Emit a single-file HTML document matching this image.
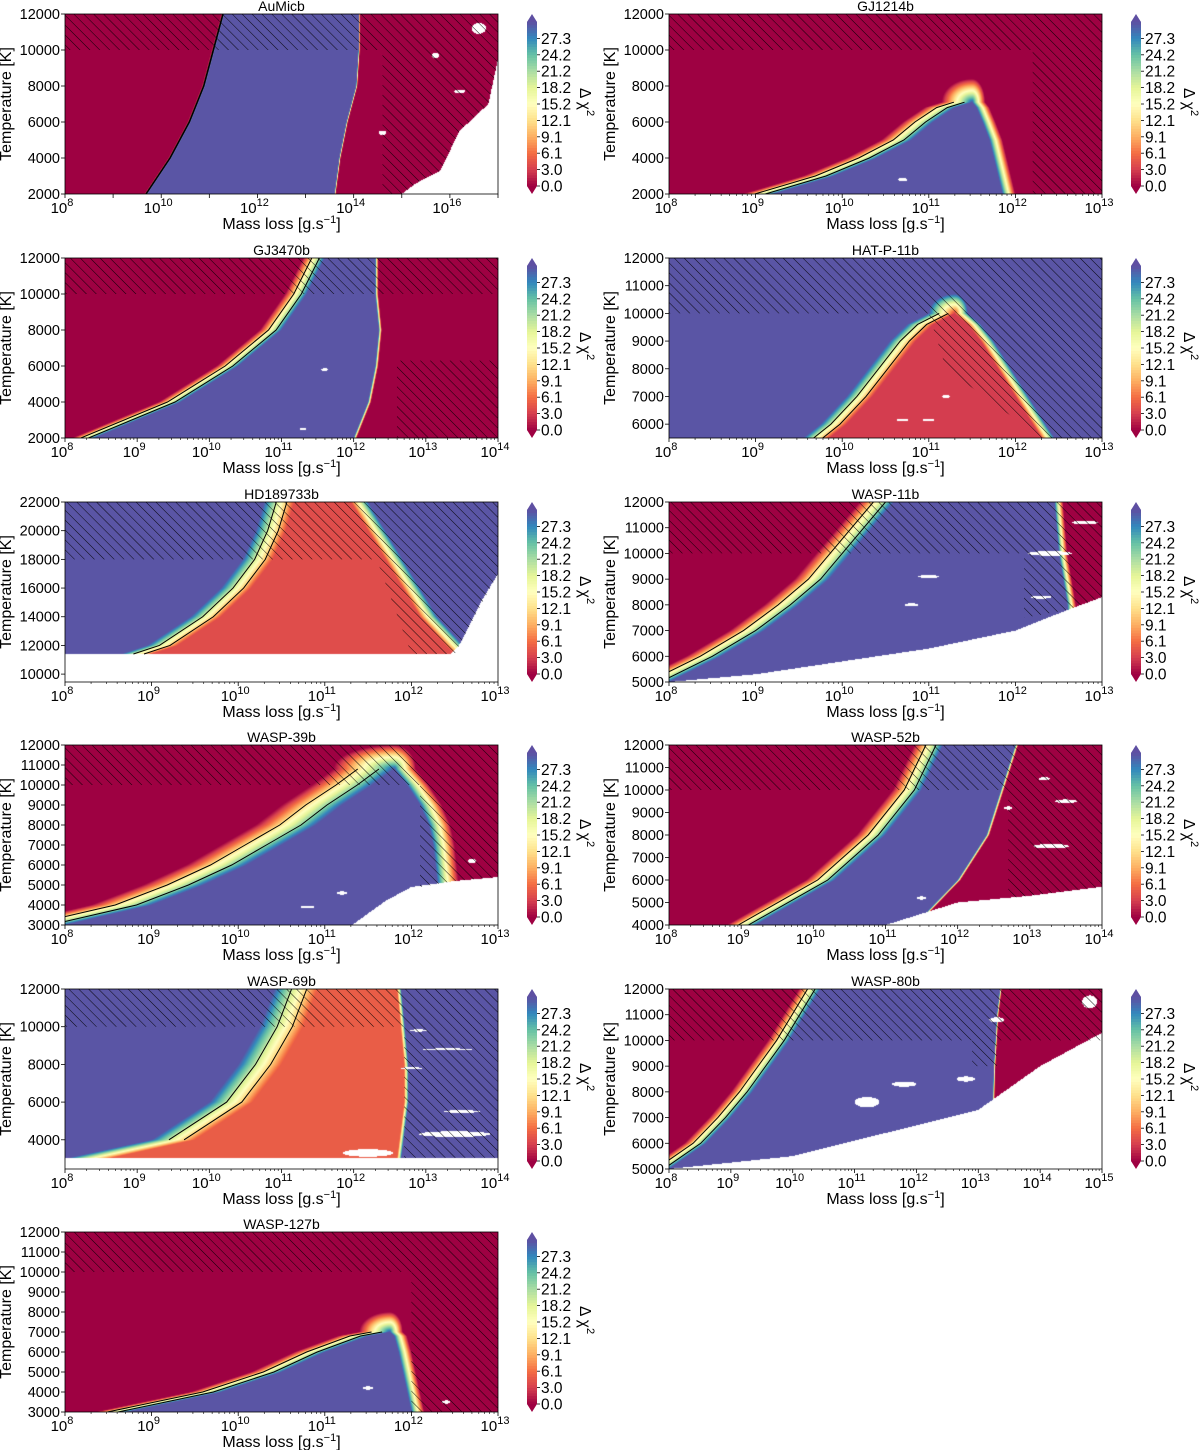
<!DOCTYPE html>
<html><head><meta charset="utf-8">
<style>
html,body{margin:0;padding:0;background:#fff;}
#wrap{position:relative;width:1200px;height:1450px;overflow:hidden;}
canvas{position:absolute;}
svg{position:absolute;left:0;top:0;}
text{font-family:"Liberation Sans",sans-serif;fill:#000;}
</style></head>
<body>
<div id="wrap">
<svg id="svg" width="1200" height="1450">
<defs>
<pattern id="hatch" patternUnits="userSpaceOnUse" width="7" height="7" patternTransform="rotate(-45)">
<line x1="0" y1="0" x2="0" y2="7" stroke="#000" stroke-width="0.9"/>
</pattern>
</defs>
</svg>
</div>
<script>
// ---------- data ----------
const panelNames=["AuMicb","GJ1214b","GJ3470b","HAT-P-11b","HD189733b","WASP-11b","WASP-39b","WASP-52b","WASP-69b","WASP-80b","WASP-127b"];
const xMin=[8,8,8,8,8,8,8,8,8,8,8];
const xMax=[17,13,14,13,13,13,13,14,14,15,13];
const xLabelStep=[2,1,1,1,1,1,1,1,1,1,1];
const yMin=[2000,2000,2000,5500,9450,5000,3000,4000,2450,5000,3000];
const yMax=[12000,12000,12000,12000,22000,12000,12000,12000,12000,12000,12000];
const yTicks=[
[2000,4000,6000,8000,10000,12000],
[2000,4000,6000,8000,10000,12000],
[2000,4000,6000,8000,10000,12000],
[6000,7000,8000,9000,10000,11000,12000],
[10000,12000,14000,16000,18000,20000,22000],
[5000,6000,7000,8000,9000,10000,11000,12000],
[3000,4000,5000,6000,7000,8000,9000,10000,11000,12000],
[4000,5000,6000,7000,8000,9000,10000,11000,12000],
[4000,6000,8000,10000,12000],
[5000,6000,7000,8000,9000,10000,11000,12000],
[3000,4000,5000,6000,7000,8000,9000,10000,11000,12000]];
const cbTickLabels=["0.0","3.0","6.1","9.1","12.1","15.2","18.2","21.2","24.2","27.3"];
const cbTickValues=[0,3.03,6.06,9.09,12.12,15.15,18.18,21.21,24.24,27.27];
const insideVal=[30,30,30,3,4,30,30,30,5,30,30];
const outsideVal=[0,0,0,30,30,0,0,0,30,0,0];
const bandW=[0.04,0.35,0.3,0.3,0.35,0.4,0.7,0.4,0.6,0.35,0.35];
const bandWR=[0.03,0.15,0.04,0.15,0.2,0.1,0.25,0.04,0.06,0.03,0.15];
const tempW=[1000,1300,1000,700,1000,1000,1200,1000,1000,1000,1000];
// boundaries: [T, log10 mass loss]
const leftBoundary=[
[[2000,9.7],[4000,10.2],[6000,10.6],[8000,10.9],[10000,11.1],[12000,11.3]],
[[2000,9.2],[3000,9.9],[4000,10.4],[5000,10.8],[6000,11.05],[6800,11.3],[7100,11.5]],
[[2000,8.4],[4000,9.6],[6000,10.4],[8000,11.0],[10000,11.35],[12000,11.6]],
[[5500,9.85],[6000,10.05],[7000,10.35],[8000,10.6],[9000,10.85],[9600,11.05],[10000,11.3]],
[[11400,9.0],[12000,9.3],[14000,9.8],[16000,10.15],[18000,10.4],[20000,10.55],[22000,10.65]],
[[5000,8.0],[6000,8.6],[7000,9.1],[8000,9.5],[9000,9.85],[10000,10.1],[11000,10.35],[12000,10.6]],
[[3000,8.0],[4000,9.0],[5000,9.6],[6000,10.1],[7000,10.5],[8000,10.9],[9000,11.2],[10000,11.55],[10800,11.8]],
[[4000,9.2],[6000,10.3],[8000,11.0],[10000,11.5],[12000,11.8]],
[[3000,8.6],[4000,9.8],[6000,10.6],[8000,11.0],[10000,11.3],[12000,11.5]],
[[5000,8.0],[6000,8.6],[7000,9.0],[8000,9.35],[9000,9.65],[10000,9.95],[11000,10.2],[12000,10.45]],
[[3000,8.7],[4000,9.8],[5000,10.5],[6000,11.0],[6800,11.5],[7000,11.75]]];
const rightBoundary=[
[[2000,13.6],[4000,13.7],[6000,13.85],[8000,14.05],[10000,14.1],[12000,14.1]],
[[2000,11.85],[3000,11.8],[4000,11.75],[5000,11.7],[6000,11.62],[6800,11.55],[7100,11.5]],
[[2000,12.0],[4000,12.2],[6000,12.3],[8000,12.35],[10000,12.3],[12000,12.3]],
[[5500,12.3],[6000,12.2],[7000,12.0],[8000,11.8],[9000,11.6],[9600,11.45],[10000,11.3]],
[[11400,12.5],[12000,12.4],[14000,12.1],[16000,11.9],[18000,11.7],[20000,11.5],[22000,11.3]],
[[5000,12.6],[8000,12.6],[10000,12.5],[12000,12.45]],
[[3000,12.3],[5000,12.3],[7000,12.25],[8000,12.2],[9000,12.1],[10000,11.95],[10800,11.8]],
[[4000,11.4],[6000,12.0],[8000,12.4],[10000,12.6],[12000,12.8]],
[[3000,12.6],[6000,12.7],[8000,12.7],[10000,12.65],[12000,12.6]],
[[5000,13.2],[9000,13.25],[11000,13.3],[12000,13.35]],
[[3000,12.0],[4000,11.95],[5000,11.9],[6000,11.85],[6800,11.8],[7000,11.75]]];
// white (no data) floor: [logM, T]; white below
const whiteFloor=[
[[8,0],[14.9,0],[15.0,2000],[15.3,2600],[15.8,3300],[16.2,5500],[16.8,7000],[17,9500]],
[[8,0],[13,0]],
[[8,0],[14,0]],
[[8,0],[13,0]],
[[8,11400],[12.45,11400],[12.55,12000],[12.8,15000],[13,17000]],
[[8,5000],[9,5300],[10,5800],[11,6300],[12,7000],[12.6,7800],[13,8300]],
[[8,2900],[11.3,2950],[11.7,4200],[12.0,4900],[12.5,5200],[13,5400]],
[[8,4000],[11,4000],[11.5,4500],[12,5000],[13,5300],[14,5700]],
[[8,3050],[14,3050]],
[[8,5000],[10,5500],[11,6100],[12,6700],[13,7300],[14,9000],[15,10300]],
[[8,0],[13,0]]];
// blobs: [logM, T, rx(dex), ry(K)]
const blobs=[
[[15.7,9700,0.08,150],[16.2,7700,0.12,100],[14.6,5400,0.08,120],[16.6,11200,0.15,300]],
[[10.7,2800,0.05,100]],
[[11.6,5800,0.05,70],[11.3,2500,0.05,70]],
[[11.0,6150,0.07,50],[10.7,6150,0.07,50],[11.2,7000,0.05,50]],
[],
[[12.4,10000,0.25,90],[11.0,9100,0.12,60],[12.3,8300,0.12,60],[10.8,8000,0.08,60],[12.8,11200,0.15,70]],
[[11.2,4600,0.06,80],[12.7,6200,0.05,100],[10.8,3900,0.08,70]],
[[13.3,7500,0.25,100],[13.5,9500,0.15,80],[12.7,9200,0.06,70],[11.5,5200,0.06,70],[13.2,10500,0.08,70]],
[[12.2,3300,0.35,200],[12.9,9800,0.12,60],[12.8,7800,0.15,50],[13.5,5500,0.25,70],[13.4,4300,0.5,150],[13.3,8800,0.35,50]],
[[11.2,7600,0.2,200],[11.8,8300,0.2,100],[12.8,8500,0.15,100],[14.8,11500,0.12,250],[13.3,10800,0.12,100]],
[[11.5,4200,0.06,80],[12.4,3500,0.05,80],[13.6,6600,0.05,70]]];
// hatched regions: polygons [logM, T]
const hatchRegions=[
[[[8,10000],[17,10000],[17,12000],[8,12000]],[[14.6,2000],[15.0,2000],[15.3,2600],[15.8,3300],[16.2,5500],[16.8,7000],[17,9500],[17,10000],[14.6,10000]]],
[[[8,10000],[13,10000],[13,12000],[8,12000]],[[12.2,2000],[13,2000],[13,10000],[12.2,10000]]],
[[[8,10000],[14,10000],[14,12000],[8,12000]],[[12.6,2000],[14,2000],[14,6300],[12.6,6300]]],
[[[8,10000],[13,10000],[13,12000],[8,12000]],[[11.0,10000],[13,10000],[13,5500],[12.3,5500],[11.2,8000]]],
[[[8,18000],[13,18000],[13,22000],[8,22000]],[[11.6,18000],[13,18000],[13,17000],[12.5,11400],[12.0,11400]]],
[[[8,10000],[13,10000],[13,12000],[8,12000]],[[12.1,7500],[12.6,7800],[13,8300],[13,10000],[12.1,10000]]],
[[[8,10000],[13,10000],[13,12000],[8,12000]],[[12.1,4900],[12.5,5200],[13,5400],[13,10000],[12.1,10000]]],
[[[8,10000],[14,10000],[14,12000],[8,12000]],[[12.7,5200],[13,5300],[14,5700],[14,10000],[12.7,10000]]],
[[[8,10000],[14,10000],[14,12000],[8,12000]],[[12.7,3050],[14,3050],[14,10000],[12.7,10000]]],
[[[8,10000],[15,10000],[15,12000],[8,12000]],[[12.9,9000],[13.3,9000],[13.3,10000],[12.9,10000]]],
[[[8,10000],[13,10000],[13,12000],[8,12000]],[[12.0,3000],[13,3000],[13,10000],[12.0,10000]]]];
const contourFractions=[0.25,0.6];
const cmapStops=['#9e0142','#d53e4f','#f46d43','#fdae61','#fee08b','#ffffbf','#e6f598','#abdda4','#66c2a5','#3288bd','#5e4fa2'];

// ---------- layout ----------
const rowTop=[14,258,502,745,989,1232];
const PW=433, PH=180;
const NS='http://www.w3.org/2000/svg';
const svg=document.getElementById('svg');
const wrap=document.getElementById('wrap');

function hex(c){return [parseInt(c.substr(1,2),16),parseInt(c.substr(3,2),16),parseInt(c.substr(5,2),16)];}
const stopsRGB=cmapStops.map(hex);
function cmap(v){
  let f=Math.max(0,Math.min(1,v/30.3))*(stopsRGB.length-1);
  let i=Math.min(stopsRGB.length-2,Math.floor(f)),t=f-i;
  const a=stopsRGB[i],b=stopsRGB[i+1];
  return [0,1,2].map(k=>Math.round(a[k]+(b[k]-a[k])*t));
}
function interpT(pts,T){
  if(T<=pts[0][0])return pts[0][1];
  for(let k=1;k<pts.length;k++){if(T<=pts[k][0]){const a=pts[k-1],b=pts[k];return a[1]+(b[1]-a[1])*(T-a[0])/(b[0]-a[0]);}}
  return pts[pts.length-1][1];
}
function interpX(pts,x){
  if(x<=pts[0][0])return pts[0][1];
  for(let k=1;k<pts.length;k++){if(x<=pts[k][0]){const a=pts[k-1],b=pts[k];return a[1]+(b[1]-a[1])*(x-a[0])/(b[0]-a[0]);}}
  return pts[pts.length-1][1];
}
function el(tag,attrs,parent){const e=document.createElementNS(NS,tag);for(const k in attrs)e.setAttribute(k,attrs[k]);(parent||svg).appendChild(e);return e;}

function valueAt(i,x,T){
  const L=leftBoundary[i],R=rightBoundary[i];
  const Tmax=Math.min(L[L.length-1][0],R[R.length-1][0]);
  let s;
  if(T>Tmax&&Tmax<yMax[i]){
    const xt=L[L.length-1][1];
    let dx=0;
    if(x<xt)dx=(xt-x)/bandW[i];else dx=(x-xt)/bandWR[i];
    const dy=(T-Tmax)/tempW[i];
    s=-Math.sqrt(dx*dx+dy*dy);
  } else {
    const Lx=interpT(L,T),Rx=interpT(R,T);
    s=Math.min((x-Lx)/bandW[i],(Rx-x)/bandWR[i]);
  }
  const t=Math.max(0,Math.min(1,s+1));
  return outsideVal[i]+(insideVal[i]-outsideVal[i])*t;
}

panelNames.forEach((name,i)=>{
  const col=i%2,row=Math.floor(i/2);
  const X0=col?669:65, Y0=rowTop[row];
  const sx=x=>X0+(x-xMin[i])/(xMax[i]-xMin[i])*PW;
  const sy=T=>Y0+PH-(T-yMin[i])/(yMax[i]-yMin[i])*PH;
  const g=el('g',{});
  
  
  const cv=document.createElement('canvas');
  cv.width=PW;cv.height=PH;cv.style.left=X0+'px';cv.style.top=Y0+'px';
  
  
  wrap.insertBefore(cv,svg);
  const ctx=cv.getContext('2d');
  const img=ctx.createImageData(PW,PH);
  for(let py=0;py<PH;py++){
    const T=yMin[i]+(PH-py-0.5)/PH*(yMax[i]-yMin[i]);
    for(let px=0;px<PW;px++){
      const x=xMin[i]+(px+0.5)/PW*(xMax[i]-xMin[i]);
      let c;
      let white=T<interpX(whiteFloor[i],x);
      for(const b of blobs[i]){const dx=(x-b[0])/b[2],dy=(T-b[1])/b[3];if(dx*dx+dy*dy<1){white=true;break;}}
      if(white)c=[255,255,255];else c=cmap(valueAt(i,x,T));
      const o=(py*PW+px)*4;img.data[o]=c[0];img.data[o+1]=c[1];img.data[o+2]=c[2];img.data[o+3]=255;
    }
  }
  ctx.putImageData(img,0,0);
  const cid='clip'+i;
  const cp=el('clipPath',{id:cid},svg.querySelector('defs'));
  el('rect',{x:X0,y:Y0,width:PW,height:PH},cp);
  hatchRegions[i].forEach(poly=>{
    const p=el('polygon',{points:poly.map(q=>sx(q[0])+','+sy(q[1])).join(' '),fill:'url(#hatch)','clip-path':'url(#'+cid+')'},g);
    
    
  });
  contourFractions.forEach(f=>{
    const pts=leftBoundary[i].filter(q=>q[0]>=interpX(whiteFloor[i],q[1]-f*bandW[i]));
    const l=el('polyline',{points:pts.map(q=>sx(q[1]-f*bandW[i])+','+sy(q[0])).join(' '),fill:'none',stroke:'#000','stroke-width':1,'clip-path':'url(#'+cid+')'},g);
    
    
  });
  el('rect',{x:X0,y:Y0,width:PW,height:PH,fill:'none',stroke:'#000','stroke-width':0.8},g);
  const t=el('text',{x:X0+PW/2,y:Y0-3,'text-anchor':'middle','font-size':14},g);
  t.textContent=name;
  
  
  for(let e=xMin[i];e<=xMax[i];e++){
    const x=sx(e);
    el('line',{x1:x,x2:x,y1:Y0+PH,y2:Y0+PH+4,stroke:'#000','stroke-width':0.8},g);
    if(e<xMax[i]&&xMax[i]-xMin[i]<=7){
      for(let m=2;m<10;m++){const xm=sx(e+Math.log10(m));el('line',{x1:xm,x2:xm,y1:Y0+PH,y2:Y0+PH+2,stroke:'#000','stroke-width':0.6},g);}
    }
    if((e-xMin[i])%xLabelStep[i]===0){
      const tx=el('text',{x:x-3,y:Y0+PH+19,'text-anchor':'middle','font-size':15},g);
      
      
      const a=el('tspan',{},tx);a.textContent='10';
      const b=el('tspan',{dy:-7,'font-size':11},tx);b.textContent=String(e);
    }
  }
  yTicks[i].forEach(v=>{
    const y=sy(v);
    el('line',{x1:X0-4,x2:X0,y1:y,y2:y,stroke:'#000','stroke-width':0.8},g);
    const ty=el('text',{x:X0-5,y:y+5,'text-anchor':'end','font-size':14.5},g);
    ty.textContent=String(v);
    
    
  });
  const xl=el('text',{x:X0+PW/2,y:Y0+PH+35,'text-anchor':'middle','font-size':16},g);
  
  
  el('tspan',{},xl).textContent='Mass loss [g.s';
  el('tspan',{dy:-6,'font-size':11},xl).textContent='−1';
  el('tspan',{dy:6},xl).textContent=']';
  const yl=el('text',{x:0,y:0,'text-anchor':'middle','font-size':16,transform:'translate('+(X0-54)+','+(Y0+PH/2)+') rotate(-90)'},g);
  yl.textContent='Temperature [K]';
  
  
  const CX=X0+462, top=Y0+8, bot=Y0+PH-8;
  const cb=el('g',{},g);
  
  
  const vTop=30.3, steps=60;
  for(let k=0;k<steps;k++){
    const v0=k/steps*vTop,v1=(k+1)/steps*vTop;
    const c=cmap((v0+v1)/2);
    const y1=bot-(v1/vTop)*(bot-top),y0=bot-(v0/vTop)*(bot-top);
    el('rect',{x:CX,y:y1-0.3,width:10,height:y0-y1+0.6,fill:'rgb('+c.join(',')+')'},cb);
  }
  el('polygon',{points:`${CX},${top} ${CX+10},${top} ${CX+5},${top-8}`,fill:cmapStops[10]},cb);
  el('polygon',{points:`${CX},${bot} ${CX+10},${bot} ${CX+5},${bot+8}`,fill:cmapStops[0]},cb);
  cbTickValues.forEach((v,k)=>{
    const y=bot-(v/vTop)*(bot-top);
    el('line',{x1:CX+10,x2:CX+13,y1:y,y2:y,stroke:'#000','stroke-width':0.8},cb);
    const tt=el('text',{x:CX+14,y:y+5.5,'font-size':15.5},cb);
    tt.textContent=cbTickLabels[k];
    
    
  });
  const cl=el('text',{x:0,y:0,'font-size':15.5,transform:'translate('+(X0+515)+','+(Y0+PH/2-16)+') rotate(90)'},cb);
  
  
  el('tspan',{},cl).textContent='Δ χ';
  el('tspan',{dy:-7,'font-size':11},cl).textContent='2';
});
</script>
</body></html>
